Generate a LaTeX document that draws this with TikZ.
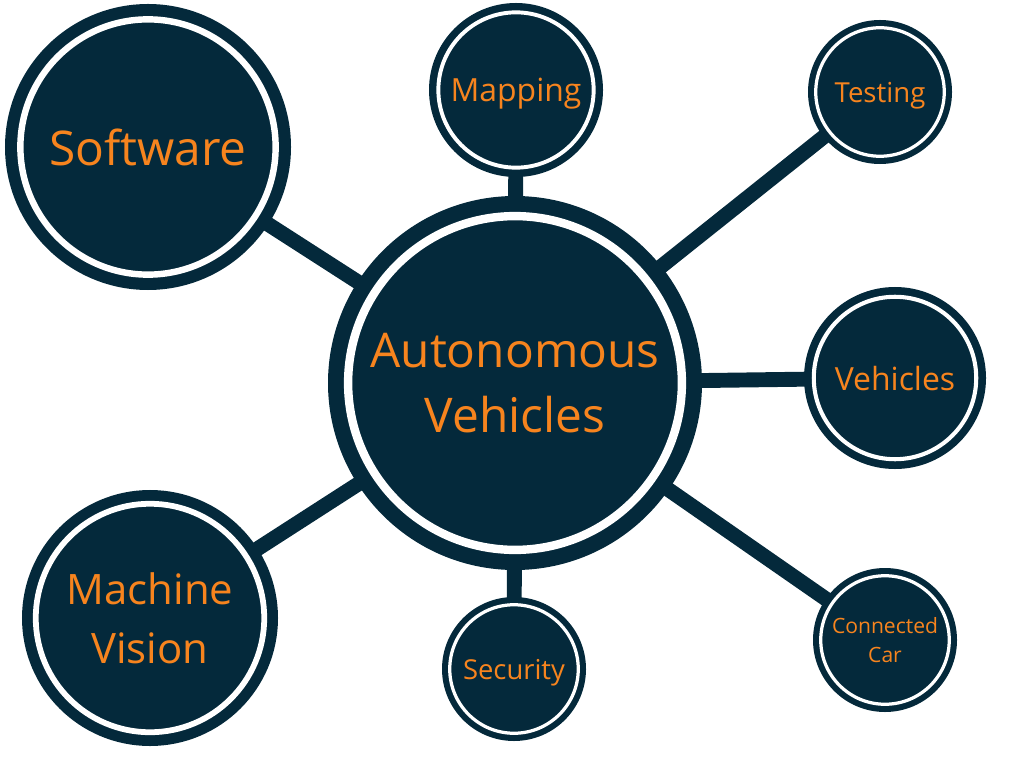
\documentclass[tikz,border=0pt]{standalone}
\usepackage{fontspec}
\setmainfont{Open Sans}
\usetikzlibrary{backgrounds}
\usepackage{xcolor}

\definecolor{navy}{HTML}{04293B}
\definecolor{amber}{HTML}{F7841E}
\newcommand{\pxu}{0.025cm}

\tikzset{
	bubble/.style={circle, fill=navy, draw=navy, double=white,
		line width={0.085*#1*\pxu}, double distance={0.045*#1*\pxu},
		minimum size={1.785*#1*\pxu}, inner sep=0pt, text depth=0pt,
		text=amber, align=center},
	link/.style={draw=navy, line width=10.6pt}
}

\begin{document}
\begin{tikzpicture}[x=0.025cm, y=-0.025cm]

		% === page frame (pixels) ===
		\useasboundingbox (0,0) rectangle (1024,767);

		% === hub ===
		\node[bubble=187, font=\fontsize{34}{46}\selectfont] (av) at (515,383) {Autonomous\\Vehicles};

		% === satellites ===
		\node[bubble=143, font=\fontsize{34}{46}\selectfont]     (sw)   at (148,147) {Software};
		\node[bubble=87,  font=\fontsize{22.7}{31}\selectfont]   (map)  at (516,90)  {Mapping};
		\node[bubble=72,  font=\fontsize{19.6}{27}\selectfont]   (test) at (880,92)  {Testing};
		\node[bubble=91,  font=\fontsize{22.7}{31}\selectfont]   (veh)  at (895,378) {Vehicles};
		\node[bubble=72,  font=\fontsize{15}{20.5}\selectfont]   (cc)   at (885,640) {Connected\\Car};
		\node[bubble=72,  font=\fontsize{19.5}{27}\selectfont]   (sec)  at (514,669) {Security};
		\node[bubble=128, font=\fontsize{29.8}{42.5}\selectfont] (mv)   at (150,618) {Machine\\Vision};

		% === spokes ===
		\begin{scope}[on background layer]
			\foreach \s in {sw, map, test, veh, cc, sec, mv}
				\draw[link] (av) -- (\s);
		\end{scope}
	\end{tikzpicture}
\end{document}
